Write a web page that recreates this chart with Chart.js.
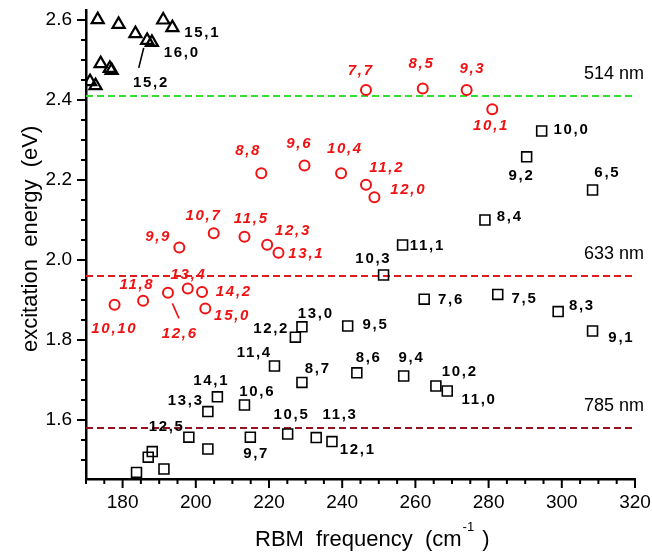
<!DOCTYPE html>
<html>
<head>
<meta charset="utf-8">
<script src="https://cdn.jsdelivr.net/npm/chart.js@4.4.0/dist/chart.umd.min.js"></script>
<style>
  html, body { margin: 0; padding: 0; background: #fff; }
</style>
</head>
<body>
<canvas id="c" width="652" height="552"></canvas>
<script>
// semiconducting (triangles, black)
const triFreq   = [173.2, 178.9, 183.5, 186.7, 188.0, 191.1, 193.6, 174.0, 176.5, 177.0, 171.1, 172.6];
const triEnergy = [2.601, 2.589, 2.566, 2.549, 2.544, 2.600, 2.581, 2.491, 2.479, 2.474, 2.446, 2.436];
const triLabels = ['', '', '', '15,2', '16,0', '', '15,1', '', '', '', '', ''];

// metallic (circles, red)
const circFreq   = [246.5, 262.0, 274.0, 281.0, 217.9, 229.7, 239.7, 246.5, 248.8, 204.9, 213.3, 219.5, 222.6, 195.5, 177.8, 185.6, 192.4, 197.8, 201.7, 202.6];
const circEnergy = [2.425, 2.429, 2.425, 2.377, 2.217, 2.236, 2.217, 2.188, 2.157, 2.067, 2.058, 2.038, 2.018, 2.031, 1.888, 1.898, 1.918, 1.929, 1.920, 1.879];
const circLabels = ['7,7', '8,5', '9,3', '10,1', '8,8', '9,6', '10,4', '11,2', '12,0', '10,7', '11,5', '12,3', '13,1', '9,9', '10,10', '11,8', '12,6', '13,4', '14,2', '15,0'];

// semiconducting (squares, black)
const sqFreq   = [294.5, 290.4, 308.4, 279.0, 256.5, 251.3, 262.4, 282.5, 299.0, 308.4, 229.0, 227.2, 241.5, 221.5, 229.0, 244.0, 256.8, 265.6, 268.7, 205.9, 203.3, 213.3, 198.1, 214.9, 225.1, 232.9, 237.2, 203.3, 188.1, 187.0, 191.3, 183.8];
const sqEnergy = [2.3225, 2.258, 2.175, 2.100, 2.0375, 1.9625, 1.902, 1.914, 1.871, 1.8225, 1.833, 1.807, 1.835, 1.735, 1.694, 1.718, 1.710, 1.685, 1.6725, 1.658, 1.621, 1.6375, 1.557, 1.557, 1.565, 1.556, 1.546, 1.5275, 1.521, 1.507, 1.4775, 1.469];
const sqLabels = ['10,0', '9,2', '6,5', '8,4', '11,1', '10,3', '7,6', '7,5', '8,3', '9,1', '13,0', '12,2', '9,5', '11,4', '8,7', '8,6', '9,4', '10,2', '11,0', '14,1', '13,3', '10,6', '12,5', '9,7', '10,5', '11,3', '12,1', '', '', '', '', ''];

// laser lines
const laserEnergy = [2.41, 1.96, 1.58];
const laserNames  = ['514 nm', '633 nm', '785 nm'];

const xTicks = [180, 200, 220, 240, 260, 280, 300, 320];
const yTicks = [1.6, 1.8, 2.0, 2.2, 2.4, 2.6];

// label placement (pixel offsets from the mark, layout only)
const triLabelPos = [null, null, null, [3, 42], [29, 10], null, [29, 5], null, null, null, null, null];
const circLabelPos = [[-6, -19], [-2, -25], [5, -21], [-2, 17], [-14, -22], [-6, -22], [3, -24], [20, -17], [33, -7], [-11, -17], [6, -18], [25, -14], [27, 1], [-22, -11], [-1, 24], [-7, -16], [11, 41], [0, -14], [31, 0], [26, 7]];
const sqLabelPos = [[29, -1], [-6, 19], [14, -17], [24, -3], [24, 1], [-11, -16], [26, 1], [26, 4], [23, -6], [28, 7], [13, -13], [-25, -8], [27, -1], [-21, -13], [15, -14], [11, -15], [7, -18], [23, -14], [31, 9], [-7, -16], [-23, -11], [12, -13], [-23, -10], [5, 17], [3, -19], [23, -23], [25, 8], null, null, null, null, null];
// leader lines [dx1, dy1, dx2, dy2]
const triLeaders = {3: [-3.4, 7.5, -8.4, 27.5]};
const circLeaders = {16: [4.4, 10.6, 11, 25.6]};

const RED = 'rgb(240,18,18)';
const FONT = '"Liberation Sans", Arial, sans-serif';
const laserColors = ['rgb(50,222,50)', 'rgb(222,30,30)', 'rgb(150,18,30)'];

function pts(xs, ys) {
  return xs.map((x, i) => ({x: x, y: ys[i]}));
}

const datasets = [
  {data: pts(sqFreq, sqEnergy), pointStyle: 'rect', pointRadius: 7, borderColor: '#000', borderWidth: 1.6, backgroundColor: 'rgba(0,0,0,0)', showLine: false, order: 1},
  {data: pts(circFreq, circEnergy), pointStyle: 'circle', pointRadius: 5, borderColor: RED, borderWidth: 2, backgroundColor: 'rgba(0,0,0,0)', showLine: false, order: 1},
  {data: pts(triFreq, triEnergy), pointStyle: 'triangle', pointRadius: 7, borderColor: '#000', borderWidth: 2.2, backgroundColor: 'rgba(0,0,0,0)', showLine: false, order: 1}
];
laserEnergy.forEach((e, i) => {
  datasets.push({type: 'line', data: [{x: 170, y: e}, {x: 320, y: e}], borderColor: laserColors[i], borderWidth: 2, borderDash: [7, 4], pointRadius: 0, fill: false, order: 5});
});

function drawLabels(ctx, xs, ys, fx, fy, labels, pos, leaders, font, color) {
  ctx.font = font;
  ctx.fillStyle = color;
  ctx.strokeStyle = color;
  ctx.textAlign = 'center';
  ctx.textBaseline = 'middle';
  ctx.letterSpacing = '1.7px';
  labels.forEach((t, i) => {
    if (!t || !pos[i]) return;
    const px = xs.getPixelForValue(fx[i]);
    const py = ys.getPixelForValue(fy[i]);
    ctx.fillText(t, px + pos[i][0] + 0.8, py + pos[i][1]);
    const l = leaders[i];
    if (l) {
      ctx.lineWidth = 1.6;
      ctx.beginPath();
      ctx.moveTo(px + l[0], py + l[1]);
      ctx.lineTo(px + l[2], py + l[3]);
      ctx.stroke();
    }
  });
  ctx.letterSpacing = '0px';
}

const decor = {
  id: 'decor',
  afterDatasetsDraw(chart) {
    const ctx = chart.ctx;
    const xs = chart.scales.x, ys = chart.scales.y;
    const a = chart.chartArea;
    ctx.save();
    // tick marks
    ctx.strokeStyle = '#000';
    ctx.lineWidth = 2;
    for (let v = 170; v <= 320; v += 5) {
      const px = xs.getPixelForValue(v);
      const len = v % 20 === 0 ? 9 : 5;
      ctx.beginPath(); ctx.moveTo(px, a.bottom); ctx.lineTo(px, a.bottom + len); ctx.stroke();
    }
    for (let k = 30; k <= 52; k++) {
      const v = k * 0.05;
      const py = ys.getPixelForValue(v);
      const len = k % 4 === 0 ? 9 : 5;
      ctx.beginPath(); ctx.moveTo(a.left, py); ctx.lineTo(a.left - len, py); ctx.stroke();
    }
    // laser names
    ctx.font = '18px ' + FONT;
    ctx.fillStyle = '#000';
    ctx.textAlign = 'right';
    ctx.textBaseline = 'middle';
    laserNames.forEach((n, i) => {
      ctx.fillText(n, a.right + 9, ys.getPixelForValue(laserEnergy[i]) - 22);
    });
    // point labels
    drawLabels(ctx, xs, ys, triFreq, triEnergy, triLabels, triLabelPos, triLeaders, 'bold 15px ' + FONT, '#000');
    drawLabels(ctx, xs, ys, sqFreq, sqEnergy, sqLabels, sqLabelPos, {}, 'bold 15px ' + FONT, '#000');
    drawLabels(ctx, xs, ys, circFreq, circEnergy, circLabels, circLabelPos, circLeaders, 'italic bold 15px ' + FONT, RED);
    // axis titles
    ctx.fillStyle = '#000';
    ctx.textBaseline = 'alphabetic';
    ctx.textAlign = 'left';
    ctx.font = '22px ' + FONT;
    let tx = 255;
    const t1 = 'RBM  frequency  (cm';
    ctx.fillText(t1, tx, 546);
    tx += ctx.measureText(t1).width + 1;
    ctx.font = '13px ' + FONT;
    ctx.fillText('-1', tx, 531);
    tx += ctx.measureText('-1').width + 2;
    ctx.font = '22px ' + FONT;
    ctx.fillText(' )', tx, 546);
    ctx.save();
    ctx.translate(37, 352);
    ctx.rotate(-Math.PI / 2);
    ctx.fillText('excitation  energy  (eV)', 0, 0);
    ctx.restore();
    ctx.restore();
  }
};

new Chart(document.getElementById('c'), {
  type: 'scatter',
  data: {datasets: datasets},
  options: {
    responsive: false,
    animation: false,
    devicePixelRatio: 1,
    layout: {padding: {top: 10, right: 17, left: 0, bottom: 0}},
    plugins: {legend: {display: false}, tooltip: {enabled: false}},
    scales: {
      x: {
        type: 'linear', min: 170, max: 320,
        grid: {display: false, drawTicks: false},
        border: {display: true, color: '#000', width: 2.5},
        ticks: {color: '#000', font: {family: FONT, size: 19}, padding: 12},
        afterBuildTicks: (s) => { s.ticks = xTicks.map(v => ({value: v})); },
        afterFit: (s) => { s.height = 73; s.paddingLeft = 0; s.paddingRight = 0; }
      },
      y: {
        type: 'linear', min: 1.4525, max: 2.625,
        grid: {display: false, drawTicks: false},
        border: {display: true, color: '#000', width: 2.5},
        ticks: {color: '#000', font: {family: FONT, size: 19}, padding: 14, callback: (v) => v.toFixed(1)},
        afterBuildTicks: (s) => { s.ticks = yTicks.map(v => ({value: v})); },
        afterFit: (s) => { s.width = 86; s.paddingTop = 0; s.paddingBottom = 0; }
      }
    }
  },
  plugins: [decor]
});
</script>
</body>
</html>
